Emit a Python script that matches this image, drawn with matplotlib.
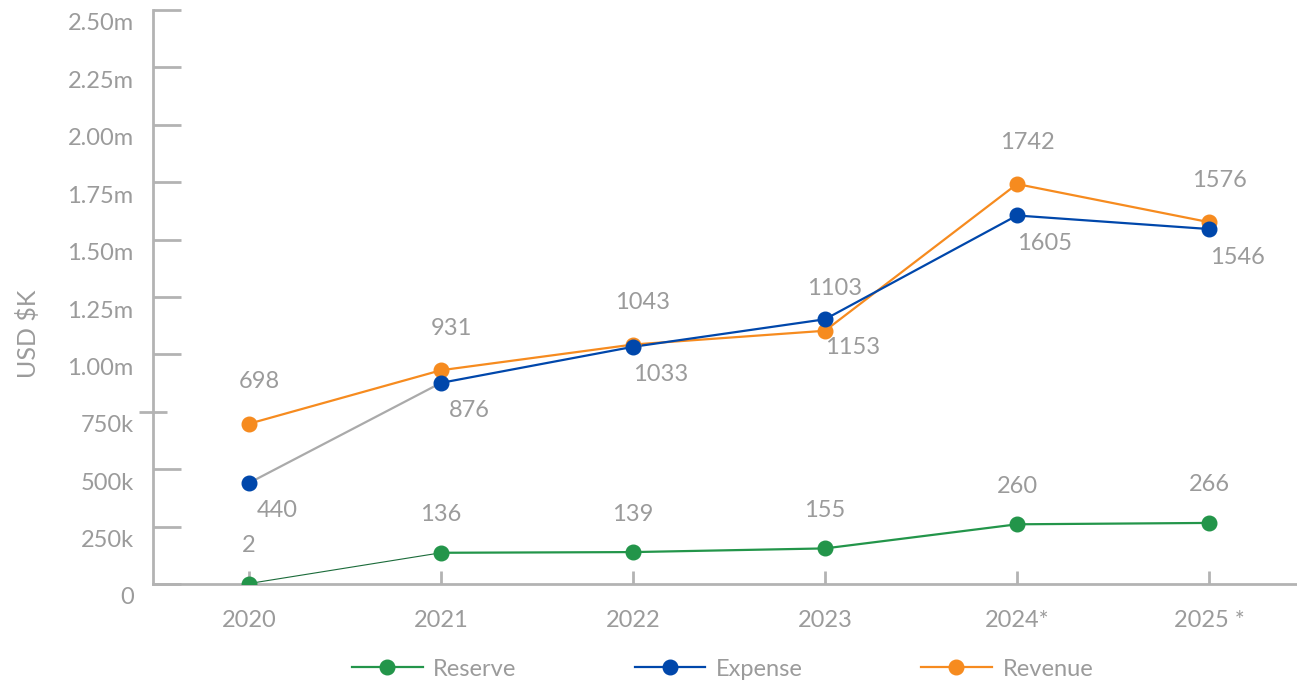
import matplotlib
matplotlib.use("Agg")
import matplotlib.pyplot as plt
import matplotlib.transforms as mtransforms
from matplotlib.lines import Line2D

# values in USD thousands
years = ["2020", "2021", "2022", "2023", "2024*", "2025 *"]
reserve = [2, 136, 139, 155, 260, 266]
expense = [440, 876, 1033, 1153, 1605, 1546]
revenue = [698, 931, 1043, 1103, 1742, 1576]

y_ticks = [0, 250, 500, 750, 1000, 1250, 1500, 1750, 2000, 2250, 2500]
y_tick_labels = ["0", "250k", "500k", "750k", "1.00m", "1.25m", "1.50m",
                 "1.75m", "2.00m", "2.25m", "2.50m"]

GREEN = "#23954a"
BLUE = "#0047ab"
ORANGE = "#f68b1f"
TEXT = "#9b9b9b"
AXIS = "#b3b3b3"

plt.rcParams['font.family'] = ['Lato', 'DejaVu Sans']

fig = plt.figure(figsize=(12.97, 6.85), dpi=100)
ax = fig.add_axes([153 / 1297, 1 - 584 / 685, 1 - 153 / 1297, 574 / 685])

x = list(range(len(years)))
lw = 1.6
ms = 10.5

# first segments are drawn differently in the source chart
ax.plot(x[:2], reserve[:2], color="#1b6b3a", lw=0.8, zorder=2)
ax.plot(x[1:], reserve[1:], color=GREEN, lw=lw, zorder=2)
ax.plot(x, reserve, ls="none", marker="o", ms=ms, color=GREEN, zorder=4)

ax.plot(x[:2], expense[:2], color="#aaaaaa", lw=lw, zorder=2)
ax.plot(x[1:], expense[1:], color=BLUE, lw=lw, zorder=3)
ax.plot(x, expense, ls="none", marker="o", ms=ms, color=BLUE, zorder=5)

ax.plot(x, revenue, color=ORANGE, lw=lw, zorder=2)
ax.plot(x, revenue, ls="none", marker="o", ms=ms, color=ORANGE, zorder=4)

# data labels
fs = 17
for xi, v in zip(x, revenue):
    ax.annotate(str(v), (xi, v), xytext=(10, 42), textcoords="offset pixels",
                ha="center", va="center", color=TEXT, fontsize=fs)
for xi, v in zip(x, expense):
    ax.annotate(str(v), (xi, v), xytext=(28, -28), textcoords="offset pixels",
                ha="center", va="center", color=TEXT, fontsize=fs)
for xi, v in zip(x, reserve):
    ax.annotate(str(v), (xi, v), xytext=(0, 38), textcoords="offset pixels",
                ha="center", va="center", color=TEXT, fontsize=fs)

ax.set_xlim(-0.5, (1297 - 249) / 192)
ax.set_ylim(0, 2500)
ax.set_xticks(x)
ax.set_xticklabels(years)
ax.set_yticks(y_ticks)
ax.set_yticklabels(y_tick_labels)

for s in ["top", "right"]:
    ax.spines[s].set_visible(False)
for s in ["left", "bottom"]:
    ax.spines[s].set_color(AXIS)
    ax.spines[s].set_linewidth(2)

ax.tick_params(axis="y", direction="in", length=20, width=2, color=AXIS,
               labelcolor=TEXT, labelsize=fs, pad=14)
ax.tick_params(axis="x", direction="in", length=9.5, width=2, color=AXIS,
               labelcolor=TEXT, labelsize=fs, pad=19)

# the 750k tick crosses the axis
t750 = ax.yaxis.get_major_ticks()[3]
t750.tick1line.set_marker("_")
t750.tick1line.set_markersize(20)

# y labels sit a little below their ticks
shift = mtransforms.ScaledTranslation(0, -12 / 100, fig.dpi_scale_trans)
for lab in ax.get_yticklabels():
    lab.set_transform(lab.get_transform() + shift)

fig.text(28 / 1297, 1 - 334 / 685, "USD $K", rotation=90, ha="center",
         va="center", color=TEXT, fontsize=18)

handles = [
    Line2D([], [], color=GREEN, lw=lw, marker="o", ms=ms),
    Line2D([], [], color=BLUE, lw=lw, marker="o", ms=ms),
    Line2D([], [], color=ORANGE, lw=lw, marker="o", ms=ms),
]
leg = fig.legend(handles, ["Reserve", "Expense", "Revenue"], loc="center",
                 bbox_to_anchor=(0.557, 1 - 669 / 685), ncol=3, frameon=False,
                 fontsize=fs, handlelength=3.0, handletextpad=0.45,
                 columnspacing=5.0)
for t in leg.get_texts():
    t.set_color(TEXT)

fig.savefig("out.png", dpi=100)
